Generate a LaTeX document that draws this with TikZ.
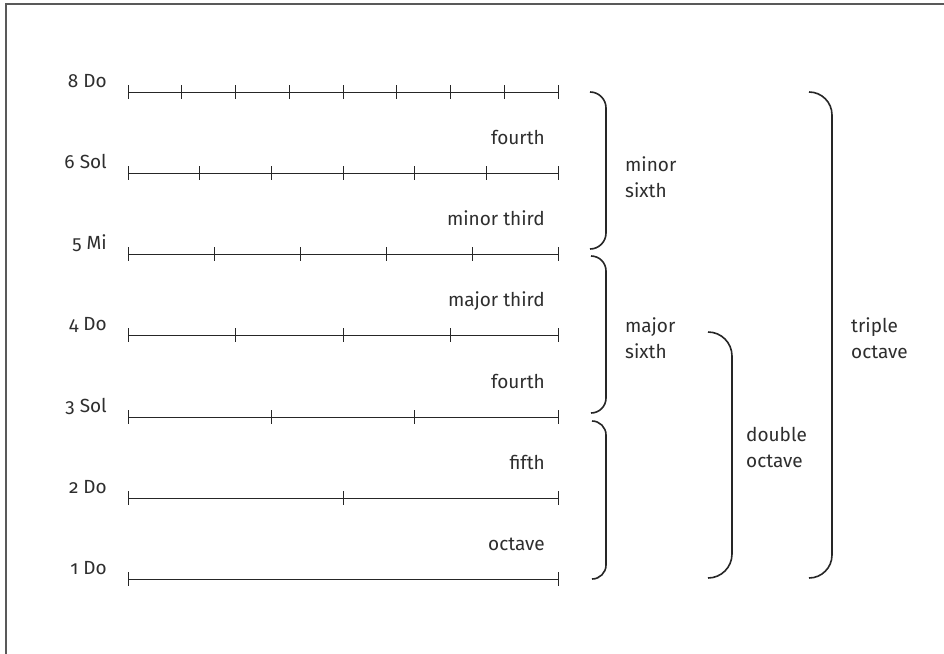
\documentclass[tikz,border=0pt]{standalone}
\usepackage{fontspec}
\setmainfont[Numbers=OldStyle]{Fira Sans}
\begin{document}
\begin{tikzpicture}[x=1pt,y=-1pt,
  lbl/.style={font=\fontsize{19}{23}\selectfont, text=black!82, inner sep=0pt},
  ruler/.style={line width=0.95pt, draw=black!85},
  brace/.style={line width=1.6pt, draw=black!85}]
\useasboundingbox (0,0) rectangle (944,653);
\fill[white] (0,0) rectangle (944,653);
% frame (only top and left visible)
\draw[line width=2pt, draw=black!65] (5.5,660) -- (5.5,3.5) -- (950,3.5);
% rulers: y, divisions, name
\foreach \y/\n/\t in {92/8/8 Do, 173/6/6 Sol, 254/5/5 Mi, 335/4/4 Do, 417/3/3 Sol, 498/2/2 Do, 579/1/1 Do}{
  \draw[ruler] (128,\y) -- (558,\y);
  \foreach \k in {0,...,\n}{
    \draw[ruler] ({128+430*\k/\n},\y-7) -- ({128+430*\k/\n},\y+7);
  }
  \node[lbl, anchor=base east] at (107,\y-5) {\t};
}
% interval labels
\node[lbl, anchor=base east] (i1) at (545,144) {fourth};
\node[lbl, anchor=base east] (i2) at (545,225) {minor third};
\node[lbl, anchor=base east] (i3) at (545,306) {major third};
\node[lbl, anchor=base east] (i4) at (545,388) {fourth};
\node[lbl, anchor=base east] (i5) at (545,469) {fifth};
\node[lbl, anchor=base east] (i6) at (545,550) {octave};
% braces
\draw[brace, rounded corners=16pt] (590,92) -| (606,249) -- (590,249);
\draw[brace, rounded corners=15pt] (591,256) -| (606,413) -- (591,413);
\draw[brace, rounded corners=14pt] (592,421) -| (606,579) -- (592,579);
\draw[brace, rounded corners=24pt] (708,332) -| (732,578) -- (708,578);
\draw[brace, rounded corners=23pt] (809,92) -| (832,578) -- (809,578);
% brace labels
\node[lbl, anchor=base west] (ms1) at (625,171) {minor};
\node[lbl, anchor=base west] (ms2) at (625,197) {sixth};
\node[lbl, anchor=base west] (mj1) at (625,332) {major};
\node[lbl, anchor=base west] (mj2) at (625,358) {sixth};
\node[lbl, anchor=base west] (do1) at (746,441) {double};
\node[lbl, anchor=base west] (do2) at (746,467) {octave};
\node[lbl, anchor=base west] (to1) at (851,332) {triple};
\node[lbl, anchor=base west] (to2) at (851,358) {octave};
\end{tikzpicture}
\end{document}
